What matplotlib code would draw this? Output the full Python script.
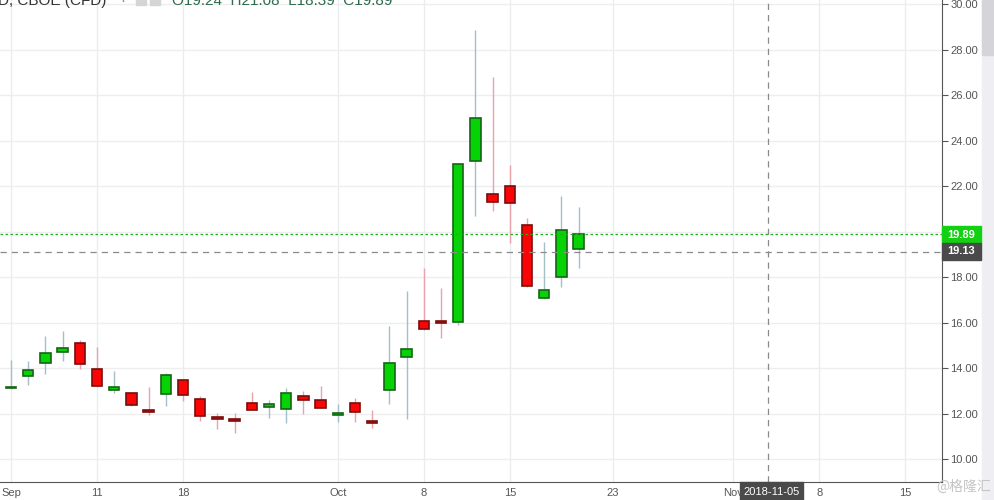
import numpy as np
import matplotlib
matplotlib.use('Agg')
import matplotlib.pyplot as plt
from matplotlib.patches import Rectangle

plt.rcParams['font.family'] = ['Liberation Sans', 'DejaVu Sans']

# daily VIX CFD candles, Sep 4 .. Oct 19 2018 (trading-day index)
opens  = [13.12, 13.68, 14.22, 14.73, 15.10, 13.96, 13.06, 12.90, 12.16, 12.89, 13.47, 12.64,
          11.85, 11.76, 12.46, 12.29, 12.20, 12.77, 12.59, 11.96, 12.46, 11.69, 13.03, 14.48,
          16.06, 16.09, 16.02, 23.09, 21.64, 22.01, 20.28, 17.08, 18.02, 19.24]
highs  = [14.37, 14.31, 15.42, 15.65, 15.24, 14.95, 13.90, 12.92, 13.19, 13.78, 13.50, 12.78,
          12.02, 12.02, 12.96, 12.61, 13.12, 13.00, 13.22, 12.43, 12.71, 12.17, 15.86, 17.41,
          18.39, 17.51, 22.96, 28.86, 26.78, 22.93, 20.59, 19.53, 21.57, 21.08]
lows   = [13.10, 13.27, 13.75, 14.32, 13.97, 13.20, 12.93, 12.36, 11.95, 12.35, 12.58, 11.69,
          11.32, 11.15, 12.16, 11.83, 11.59, 11.98, 12.25, 11.63, 11.66, 11.39, 12.43, 11.76,
          15.70, 15.32, 15.90, 20.70, 20.92, 19.52, 17.59, 17.06, 17.56, 18.39]
closes = [13.15, 13.91, 14.66, 14.88, 14.18, 13.21, 13.17, 12.38, 12.07, 13.71, 12.81, 11.92,
          11.79, 11.67, 12.18, 12.42, 12.90, 12.60, 12.27, 12.02, 12.07, 11.61, 14.22, 14.83,
          15.71, 15.98, 22.96, 24.98, 21.32, 21.27, 17.63, 17.43, 20.06, 19.89]

tick_pos = [0, 5, 10, 19, 24, 29, 35, 42, 47, 52]
tick_lbl = ['Sep', '11', '18', 'Oct', '8', '15', '23', 'Nov', '8', '15']
price_ticks = [10, 12, 14, 16, 18, 20, 22, 24, 26, 28, 30]

last_price = 19.89
cross_price = 19.13
cross_idx = 44
cross_date = '2018-11-05'

fig = plt.figure(figsize=(9.94, 5.0), dpi=100)
ax = fig.add_axes([0, 18 / 500, 942 / 994, 482 / 500])
ax.set_xlim(-0.64, 54.13)
ax.set_ylim(9.007, 30.176)

# grid
for p in tick_pos:
    ax.axvline(p, color='#e9edf0', lw=1, zorder=0)
for v in price_ticks:
    ax.axhline(v, color='#eeeeee', lw=1, zorder=0)

x = np.arange(len(opens))
o = np.array(opens); c = np.array(closes)
up = c >= o
body_lo = np.minimum(o, c)
body_h = np.maximum(np.abs(c - o), 0.05)

ax.vlines(x[up], np.array(lows)[up], np.array(highs)[up], color='#a3bfc7', lw=1, zorder=1)
ax.vlines(x[~up], np.array(lows)[~up], np.array(highs)[~up], color='#eaa3ab', lw=1, zorder=1)
ax.bar(x[up], body_h[up], bottom=body_lo[up], width=0.6, color='#05d305',
       edgecolor='#146614', lw=1.2, zorder=2)
ax.bar(x[~up], body_h[~up], bottom=body_lo[~up], width=0.6, color='#fa0505',
       edgecolor='#7a0c0c', lw=1.2, zorder=2)

# last price and crosshair lines
ax.axhline(last_price, color='#19b319', lw=0.9, ls=(0, (2, 2)), zorder=3)
ax.axhline(cross_price, color='#8a8a8a', lw=0.9, ls=(0, (5, 4)), zorder=3)
ax.axvline(cross_idx, color='#8a8a8a', lw=0.9, ls=(0, (5, 4)), zorder=3)

# axes styling
for s in ['top', 'left']:
    ax.spines[s].set_visible(False)
ax.spines['right'].set_color('#555555')
ax.spines['bottom'].set_color('#555555')
ax.yaxis.tick_right()
ax.set_yticks(price_ticks)
ax.set_yticklabels(['%.2f' % v for v in price_ticks])
ax.tick_params(axis='y', colors='#555555', labelsize=8, length=4, width=0.8, pad=2)
ax.set_xticks(tick_pos)
ax.set_xticklabels(tick_lbl)
ax.tick_params(axis='x', length=0, labelsize=8, labelcolor='#555555', pad=4)

def px(xp, yp):
    return xp / 994, 1 - yp / 500

# right-side price boxes
fig.patches.append(Rectangle(px(942, 243), 39 / 994, 17 / 500, transform=fig.transFigure,
                             color='#12d012', zorder=5))
fig.text(961.5 / 994, 1 - 234.5 / 500, '%.2f' % last_price, color='white', fontsize=8,
         fontweight='bold', ha='center', va='center', zorder=6)
fig.patches.append(Rectangle(px(942, 260), 39 / 994, 17 / 500, transform=fig.transFigure,
                             color='#4a4a4a', zorder=5))
fig.text(961.5 / 994, 1 - 251.5 / 500, '%.2f' % cross_price, color='white', fontsize=8,
         fontweight='bold', ha='center', va='center', zorder=6)

# crosshair date box
fig.patches.append(Rectangle(px(740, 500), 63 / 994, 18 / 500, transform=fig.transFigure,
                             color='#4a4a4a', zorder=5))
fig.text(771.5 / 994, 1 - 492 / 500, cross_date, color='white', fontsize=8,
         ha='center', va='center', zorder=6)

# scrollbar strip
fig.patches.append(Rectangle(px(982, 500), 12 / 994, 1, transform=fig.transFigure,
                             color='#efeff3', zorder=1))
fig.patches.append(Rectangle(px(982, 55), 12 / 994, 55 / 500, transform=fig.transFigure,
                             color='#d4d4d9', zorder=2))

# header (cut off at top)
fig.text(-2 / 994, 1 - 5 / 500, 'D, CBOE (CFD)', color='#333333', fontsize=11, va='baseline')
fig.text(120 / 994, 1 - 5 / 500, '\u00b7', color='#888888', fontsize=11, va='baseline')
fig.patches.append(Rectangle(px(136, 5), 10 / 994, 10 / 500, transform=fig.transFigure,
                             color='#d5d5d5', zorder=5))
fig.patches.append(Rectangle(px(150, 5), 10 / 994, 10 / 500, transform=fig.transFigure,
                             color='#d5d5d5', zorder=5))
fig.text(172 / 994, 1 - 5 / 500,
         'O%.2f  H%.2f  L%.2f  C%.2f' % (opens[-1], highs[-1], lows[-1], closes[-1]),
         color='#2e6b4e', fontsize=11, va='baseline')

# watermark
fig.text(991 / 994, 1 - 487 / 500, '@格隆汇', color='#c4c4c4', fontsize=10,
         ha='right', va='center', family=['Noto Sans CJK SC', 'DejaVu Sans'], zorder=7)

fig.savefig('out.png', dpi=100)
